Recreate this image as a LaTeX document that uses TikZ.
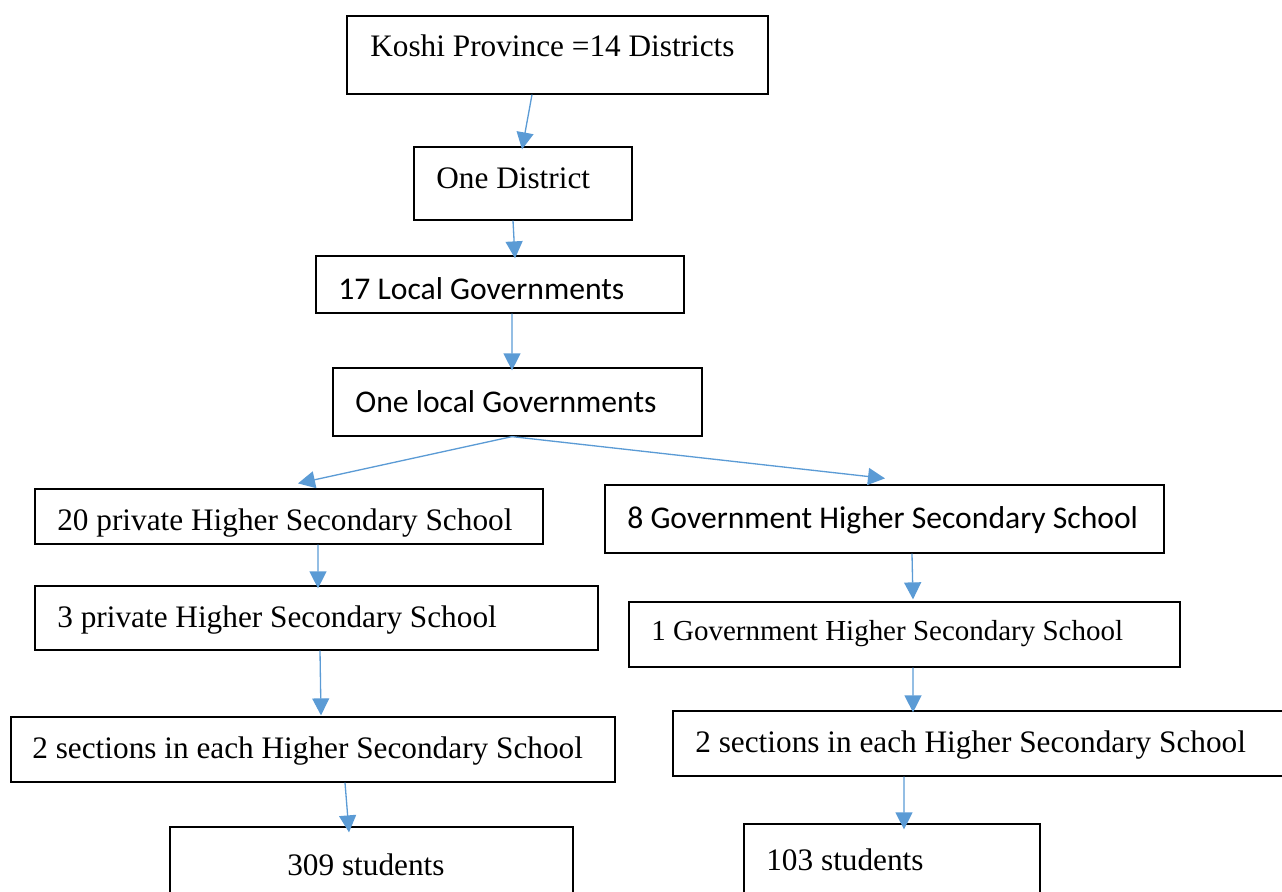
\documentclass[tikz,border=0pt]{standalone}
\usepackage{fontspec}
\setmainfont{Liberation Serif}
\newfontfamily\calibri{Carlito}
\usetikzlibrary{fit,arrows.meta}
\definecolor{wordblue}{HTML}{5B9BD5}

\begin{document}
\begin{tikzpicture}[x=0.02cm,y=-0.02cm]
\tikzstyle{box}=[draw,line width=0.7pt,inner sep=0pt]
\tikzstyle{txt}=[anchor=base west,inner sep=0pt,font=\fontsize{17.8}{21}\selectfont]
\tikzstyle{stxt}=[txt,font=\fontsize{18}{21}\selectfont\calibri]
\tikzstyle{arr}=[color=wordblue,line width=0.75pt,-{Triangle[length=0.34cm,width=0.34cm]}]
\useasboundingbox (0,0) rectangle (1282,892);
\clip (0,0) rectangle (1282,892);

% boxes
\node[box,fit={(347,16) (768,94)}] (k) {};
\node[box,fit={(414,147) (632,220)}] (d) {};
\node[box,fit={(316,256) (684,313)}] (lg) {};
\node[box,fit={(333,368) (702,436)}] (ol) {};
\node[box,fit={(35,489) (543,544)}] (p20) {};
\node[box,fit={(605,485) (1164,553)}] (g8) {};
\node[box,fit={(35,586) (598,650)}] (p3) {};
\node[box,fit={(629,602) (1180,667)}] (g1) {};
\node[box,fit={(11,717) (615,782)}] (ps) {};
\node[box,fit={(673,711) (1300,776)}] (gs) {};
\node[box,fit={(170,827) (573,910)}] (pst) {};
\node[box,fit={(744,824) (1040,910)}] (gst) {};

% texts
\node[txt] (kt) at (370,57) {Koshi Province =14 Districts};
\node[txt] (dt) at (436,189) {One District};
\node[stxt] (lgt) at (338,299) {17 Local Governments};
\node[stxt] (olt) at (355,412) {One local Governments};
\node[txt] (p20t) at (57,530) {20 private Higher Secondary School};
\node[stxt] (g8t) at (627,528) {8 Government Higher Secondary School};
\node[txt] (p3t) at (57,627) {3 private Higher Secondary School};
\node[txt,font=\fontsize{16.5}{19}\selectfont] (g1t) at (651,640) {1 Government Higher Secondary School};
\node[txt] (pst1) at (32,758) {2 sections in each Higher Secondary School};
\node[txt] (gst1) at (695,752) {2 sections in each Higher Secondary School};
\node[txt] (pstt) at (287,875) {309 students};
\node[txt] (gstt) at (766,870) {103 students};

\path[arr]
    ([xshift=-0.51cm]k.south) edge ([xshift=-0.02cm,yshift=-0.06cm]d.north)
    ([xshift=-0.2cm]d.south) edge ([xshift=0.3cm,yshift=-0.06cm]lg.north)
    ([xshift=0.24cm]lg.south) edge ([xshift=-0.11cm,yshift=-0.06cm]ol.north)
    ([xshift=-0.11cm]ol.south) edge ([xshift=0.18cm,yshift=0.1cm]p20.north)
    ([xshift=-0.11cm]ol.south) edge ([xshift=0.01cm,yshift=0.12cm]g8.north)
    ([xshift=0.58cm]p20.south) edge ([xshift=0.03cm,yshift=-0.06cm]p3.north)
    ([xshift=0.07cm]p3.south) edge ([xshift=0.16cm,yshift=0.02cm]ps.north)
    ([xshift=0.64cm]ps.south) edge ([xshift=-0.45cm,yshift=-0.12cm]pst.north)
    ([xshift=0.55cm]g8.south) edge ([xshift=0.17cm,yshift=0.04cm]g1.north)
    ([xshift=0.17cm]g1.south) edge ([xshift=-1.47cm,yshift=-0.04cm]gs.north)
    ([xshift=-1.65cm]gs.south) edge ([xshift=0.24cm,yshift=-0.12cm]gst.north);
\end{tikzpicture}
\end{document}
